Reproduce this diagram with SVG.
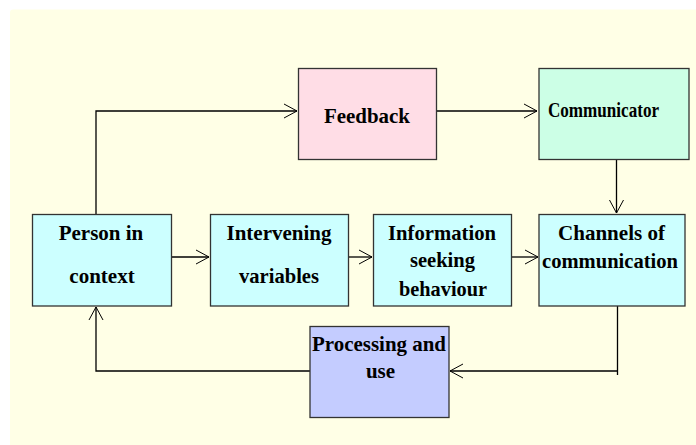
<svg xmlns="http://www.w3.org/2000/svg" width="696" height="445" viewBox="0 0 696 445">
<defs>
<marker id="arr" markerUnits="userSpaceOnUse" markerWidth="14" markerHeight="16" refX="13" refY="7" orient="auto" overflow="visible">
<path d="M0,0 L13,7 L0,14" fill="none" stroke="#000" stroke-width="1"/>
</marker>
<style>
.box{stroke:#333;stroke-width:1.3}
.t{font-family:"Liberation Serif","Times New Roman",serif;font-weight:bold;font-size:21px;fill:#000;text-anchor:middle}
.c{fill:none;stroke:#000;stroke-width:1.3}
</style>
</defs>
<rect x="0" y="0" width="696" height="445" fill="#ffffff"/>
<rect x="10" y="9.5" width="700" height="450" rx="3" fill="#FFFFE6"/>
<g id="connectors">
<path class="c" d="M96,214 V111 H297" marker-end="url(#arr)"/>
<path class="c" d="M437,111 H537" marker-end="url(#arr)"/>
<path class="c" d="M616.5,159 V213" marker-end="url(#arr)"/>
<path class="c" d="M172,257 H209" marker-end="url(#arr)"/>
<path class="c" d="M348,257 H372" marker-end="url(#arr)"/>
<path class="c" d="M512,257 H538" marker-end="url(#arr)"/>
<path class="c" d="M617.5,306 V375 M618,371 H450" marker-end="url(#arr)"/>
<path class="c" d="M310,371 H96 V307" marker-end="url(#arr)"/>
</g>
<g id="feedback">
<rect class="box" x="298.5" y="68.5" width="138" height="91" fill="#FFDDE6"/>
<text class="t" x="367" y="122.5" textLength="86" lengthAdjust="spacingAndGlyphs">Feedback</text>
</g>
<g id="communicator">
<rect class="box" x="539" y="68.5" width="150" height="91" fill="#CCFFE6"/>
<text class="t" x="548" y="116.5" style="text-anchor:start" textLength="111" lengthAdjust="spacingAndGlyphs">Communicator</text>
</g>
<g id="person">
<rect class="box" x="32.5" y="214.5" width="139" height="91.5" fill="#CCFFFF"/>
<text class="t" x="101" y="239.5">Person in</text>
<text class="t" x="102" y="282.5">context</text>
</g>
<g id="intervening">
<rect class="box" x="210.5" y="214.5" width="138" height="91.5" fill="#CCFFFF"/>
<text class="t" x="279" y="239.5" textLength="105" lengthAdjust="spacingAndGlyphs">Intervening</text>
<text class="t" x="279" y="282.5" textLength="80" lengthAdjust="spacingAndGlyphs">variables</text>
</g>
<g id="information">
<rect class="box" x="373.5" y="214.5" width="138" height="91.5" fill="#CCFFFF"/>
<text class="t" x="442" y="239.5" textLength="108" lengthAdjust="spacingAndGlyphs">Information</text>
<text class="t" x="442.5" y="267" textLength="65" lengthAdjust="spacingAndGlyphs">seeking</text>
<text class="t" x="443" y="296" textLength="88" lengthAdjust="spacingAndGlyphs">behaviour</text>
</g>
<g id="channels">
<rect class="box" x="539" y="214.5" width="146" height="91.5" fill="#CCFFFF"/>
<text class="t" x="611.5" y="239.5" textLength="107" lengthAdjust="spacingAndGlyphs">Channels of</text>
<text class="t" x="610" y="268" textLength="136" lengthAdjust="spacingAndGlyphs">communication</text>
</g>
<g id="processing">
<rect class="box" x="310" y="326.5" width="139" height="91" fill="#C4CCFF"/>
<text class="t" x="379" y="350.5" textLength="134" lengthAdjust="spacingAndGlyphs">Processing and</text>
<text class="t" x="380.5" y="378">use</text>
</g>
</svg>
